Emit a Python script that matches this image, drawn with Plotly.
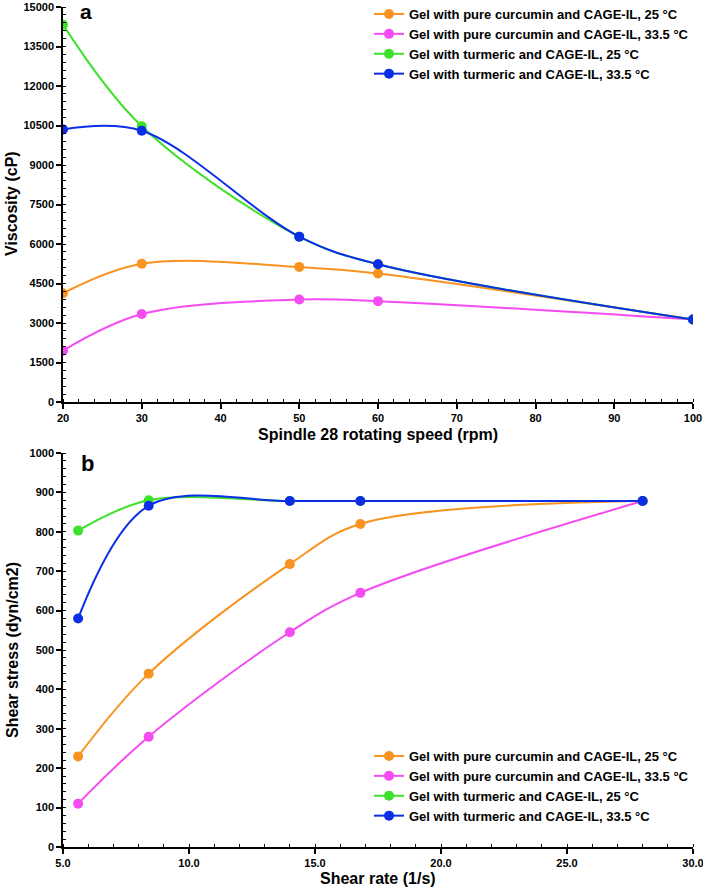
import plotly.graph_objects as go
from plotly.subplots import make_subplots

# ── data ──────────────────────────────────────────────────────────────────────
SERIES_NAMES = [
    "Gel with pure curcumin and CAGE-IL, 25 °C",
    "Gel with pure curcumin and CAGE-IL, 33.5 °C",
    "Gel with turmeric and CAGE-IL, 25 °C",
    "Gel with turmeric and CAGE-IL, 33.5 °C",
]
COLORS = ["#F7931E", "#F54BF2", "#3DE12A", "#0B2EE6"]

rpm = [20, 30, 50, 60, 100]
visc_curc_25 = [4130, 5250, 5130, 4880, 3130]
visc_curc_335 = [1950, 3340, 3890, 3830, 3130]
visc_turm_25 = [14330, 10470, 6280, 5230, 3130]
visc_turm_335 = [10350, 10300, 6280, 5230, 3130]

shear_rate = [5.6, 8.4, 14.0, 16.8, 28.0]
stress_curc_25 = [230, 440, 718, 820, 878]
stress_curc_335 = [110, 280, 545, 645, 878]
stress_turm_25 = [803, 880, 878, 878, 878]
stress_turm_335 = [580, 866, 878, 878, 878]

visc_series = [visc_curc_25, visc_curc_335, visc_turm_25, visc_turm_335]
stress_series = [stress_curc_25, stress_curc_335, stress_turm_25, stress_turm_335]

FONT = "Liberation Sans, Arial, sans-serif"

W, H = 703, 889
L, R, T, B = 63, 10, 0, 42
PW, PH = W - L - R, H - T - B


def px_x(x):
    return (x - L) / PW


def px_y(y):
    return (H - B - y) / PH


fig = make_subplots(rows=2, cols=1)

for name, col, ys in zip(SERIES_NAMES, COLORS, visc_series):
    fig.add_trace(go.Scatter(
        x=rpm, y=ys, name=f"<b>{name}</b>", mode="lines+markers",
        line=dict(color=col, width=2, shape="spline"),
        marker=dict(color=col, size=10),
        legend="legend",
    ), row=1, col=1)

for name, col, ys in zip(SERIES_NAMES, COLORS, stress_series):
    fig.add_trace(go.Scatter(
        x=shear_rate, y=ys, name=f"<b>{name}</b>", mode="lines+markers",
        line=dict(color=col, width=2, shape="spline"),
        marker=dict(color=col, size=10),
        legend="legend2",
    ), row=2, col=1)

axis_common = dict(
    showline=True, linecolor="black", linewidth=1.5,
    showgrid=False, zeroline=False, automargin=False,
    ticks="outside", ticklen=5, tickwidth=1.5, tickcolor="black",
    ticklabeloverflow="allow",
    tickfont=dict(size=11, color="black", family=FONT, weight="bold"),
)
minor_common = dict(ticks="inside", ticklen=3, tickwidth=1, tickcolor="black")

fig.update_xaxes(**axis_common)
fig.update_yaxes(**axis_common)
fig.update_layout(
    xaxis=dict(range=[20, 100], dtick=10, tick0=20,
               minor=dict(dtick=2, **minor_common)),
    yaxis=dict(range=[0, 15000], dtick=1500, tickformat="d",
               domain=[px_y(402), px_y(7)],
               minor=dict(dtick=300, **minor_common)),
    xaxis2=dict(range=[5, 30], dtick=5, tick0=5, tickformat=".1f",
                minor=dict(dtick=1, **minor_common)),
    yaxis2=dict(range=[0, 1000], dtick=100, tickformat="d",
                domain=[0, px_y(453)],
                minor=dict(dtick=20, **minor_common)),
)

legend_style = dict(
    font=dict(size=13, color="black", family=FONT),
    bgcolor="rgba(0,0,0,0)", itemwidth=30, tracegroupgap=0,
    xanchor="left", yanchor="top",
)
fig.update_layout(
    legend=dict(x=px_x(369), y=px_y(-1), **legend_style),
    legend2=dict(x=px_x(369), y=px_y(741), **legend_style),
)

annotations = [
    dict(text="<b>Viscosity (cP)</b>", x=12, y=204, textangle=-90, size=16),
    dict(text="<b>Shear stress (dyn/cm2)</b>", x=12, y=650, textangle=-90, size=16),
    dict(text="<b>Spindle 28 rotating speed (rpm)</b>", x=378, y=434, textangle=0, size=16),
    dict(text="<b>Shear rate (1/s)</b>", x=378, y=878, textangle=0, size=16),
    dict(text="<b>a</b>", x=86, y=12, textangle=0, size=21),
    dict(text="<b>b</b>", x=87, y=464, textangle=0, size=22),
]
for a in annotations:
    fig.add_annotation(
        text=a["text"], showarrow=False, textangle=a["textangle"],
        xref="paper", yref="paper",
        x=px_x(a["x"]), y=px_y(a["y"]),
        xanchor="center", yanchor="middle",
        font=dict(size=a["size"], color="black", family=FONT),
    )

fig.update_layout(
    width=W, height=H,
    margin=dict(l=L, r=R, t=T, b=B, autoexpand=False),
    plot_bgcolor="white", paper_bgcolor="white",
    font=dict(family=FONT, color="black"),
)

# drop the browser's default body margin so the figure sits at the page origin
fig.write_html(
    "out.html",
    config={"displayModeBar": False},
    post_script="document.body.style.margin='0px';",
)
